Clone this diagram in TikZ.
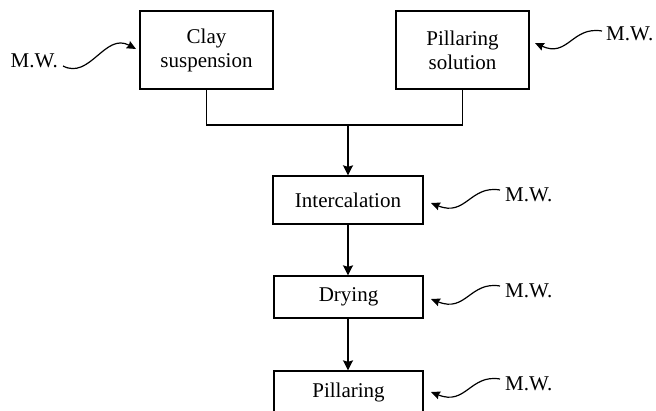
\documentclass[tikz,border=0pt]{standalone}
\usepackage{fontspec}
\setmainfont{Liberation Serif}
\usetikzlibrary{arrows.meta}
\begin{document}
\begin{tikzpicture}[x=1pt,y=-1pt,
  every node/.style={font=\fontsize{21}{24}\selectfont},
  box/.style={draw,line width=1.3pt,inner sep=0pt,align=center},
  line/.style={line width=1.3pt},
  arr/.style={line width=1.5pt,-{Stealth[length=10pt,width=10pt,inset=1.5pt]}},
  wave/.style={line width=1.2pt,-{Stealth[length=9pt,width=8pt,inset=1pt]}},
  mw/.style={inner sep=0pt}]
\useasboundingbox (0,0) rectangle (656,410);
\clip (0,0) rectangle (656,410);
% boxes
\node[box,minimum width=133pt,minimum height=78pt] (clay) at (206.5,50) {Clay\\suspension};
\node[box,minimum width=133pt,minimum height=78pt] (sol) at (462.5,50) {Pillaring\\solution};
\node[box,minimum width=150pt,minimum height=48pt] (inter) at (348,200) {Intercalation};
\node[box,minimum width=149pt,minimum height=42pt] (dry) at (348.5,297) {Drying};
\node[box,minimum width=149pt,minimum height=42pt] (pill) at (348.5,392) {Pillaring};
% connectors
\coordinate (j) at (348,125);
\draw[line] (clay.south) |- (j) -| (sol.south);
\draw[arr] (j) -- (inter.north);
\draw[arr] (inter.south -| 348,0) -- (dry.north -| 348,0);
\draw[arr] (dry.south -| 348,0) -- (pill.north -| 348,0);
% M.W. labels
\node[mw,anchor=east] (mw1) at (58,61) {M.W.};
\node[mw,anchor=west] (mw2) at (606,34) {M.W.};
\node[mw,anchor=west] (mw3) at (505,195) {M.W.};
\node[mw,anchor=west] (mw4) at (505,291) {M.W.};
\node[mw,anchor=west] (mw5) at (505,384) {M.W.};
% wavy arrows
\coordinate (s1) at (63,66); \coordinate (t1) at (136,49);
\draw[wave] (s1) .. controls (90,80) and (105,32) .. (t1);
\coordinate (s2) at (602,31); \coordinate (t2) at (535,43);
\draw[wave] (s2) .. controls (572,26) and (568,58) .. (t2);
\coordinate (s3) at (500,190); \coordinate (t3) at (431,203);
\draw[wave] (s3) .. controls (470,185) and (466,217) .. (t3);
\coordinate (s4) at (500,286); \coordinate (t4) at (431,299);
\draw[wave] (s4) .. controls (470,281) and (466,313) .. (t4);
\coordinate (s5) at (500,379); \coordinate (t5) at (431,392);
\draw[wave] (s5) .. controls (470,374) and (466,406) .. (t5);
\end{tikzpicture}
\end{document}
